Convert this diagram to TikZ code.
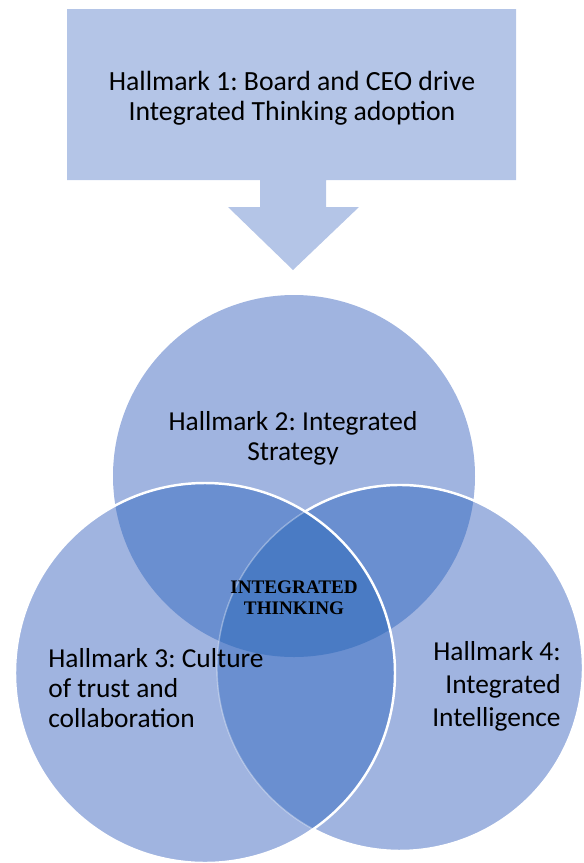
\documentclass[tikz,border=0pt]{standalone}
\usepackage{fontspec}
\usepackage{xcolor}
\setmainfont{Carlito}
\newfontfamily\serifbold{Liberation Serif}
\frenchspacing

\definecolor{boxblue}{HTML}{B4C5E7}
\definecolor{lightblue}{HTML}{A0B4E0}
\definecolor{midblue}{HTML}{6A8FD0}
\definecolor{darkblue}{HTML}{4A7BC4}

\begin{document}
\begin{tikzpicture}[x=0.02cm, y=-0.02cm,
  hallmark/.style={font=\fontsize{15.6}{17}\selectfont, inner sep=0pt},
  core/.style={font=\serifbold\bfseries\fontsize{10.9}{12}\selectfont, inner sep=0pt, align=center}]
  \useasboundingbox (0,0) rectangle (583,863);

  % box with the arrow pointing down
  \fill[boxblue] (67,9) -- (516,9) -- (516,180) -- (326,180) -- (326,207) -- (359,207)
    -- (293,270) -- (228,207) -- (260,207) -- (260,180) -- (67,180) -- cycle;
  \node[hallmark, align=center, font=\fontsize{15.8}{17.2}\selectfont] (h1) at (292,98) {Hallmark 1: Board and CEO drive\\Integrated Thinking adoption};

  \coordinate (top) at (294,476);
  \coordinate (left) at (205,673);
  \coordinate (right) at (400,668);
  \def\rtop{181}
  \def\rleft{190}
  \def\rright{183}

  % the three circles
  \fill[lightblue] (top) circle[radius=\rtop];
  \fill[lightblue] (left) circle[radius=\rleft];
  \fill[lightblue] (right) circle[radius=\rright];

  % overlaps of two
  \begin{scope}
    \clip (top) circle[radius=\rtop];
    \fill[midblue] (left) circle[radius=\rleft];
    \fill[midblue] (right) circle[radius=\rright];
  \end{scope}
  \begin{scope}
    \clip (left) circle[radius=\rleft];
    \fill[midblue] (right) circle[radius=\rright];
  \end{scope}

  % overlap of all three
  \begin{scope}
    \clip (top) circle[radius=\rtop];
    \clip (left) circle[radius=\rleft];
    \fill[darkblue] (right) circle[radius=\rright];
  \end{scope}

  % white rims
  \draw[white, line width=0.8pt, opacity=0.35] (right) circle[radius=\rright];
  \draw[white, line width=1.4pt] (right) ++(238.8:\rright) arc[start angle=238.8, end angle=478.3, radius=\rright];
  \draw[white, line width=1.4pt] (left) circle[radius=\rleft];

  \node[hallmark, align=center] (h2) at (293,438) {Hallmark 2: Integrated\\Strategy};
  \node[hallmark, align=left, anchor=west] (h3) at (48,688) {Hallmark 3: Culture\\of trust and\\collaboration};
  \node[hallmark, align=right, anchor=east, font=\fontsize{15.6}{18.7}\selectfont] (h4) at (561,686) {Hallmark 4:\\Integrated\\Intelligence};
  \node[core] (it) at (294,598) {INTEGRATED\\THINKING};
\end{tikzpicture}
\end{document}
